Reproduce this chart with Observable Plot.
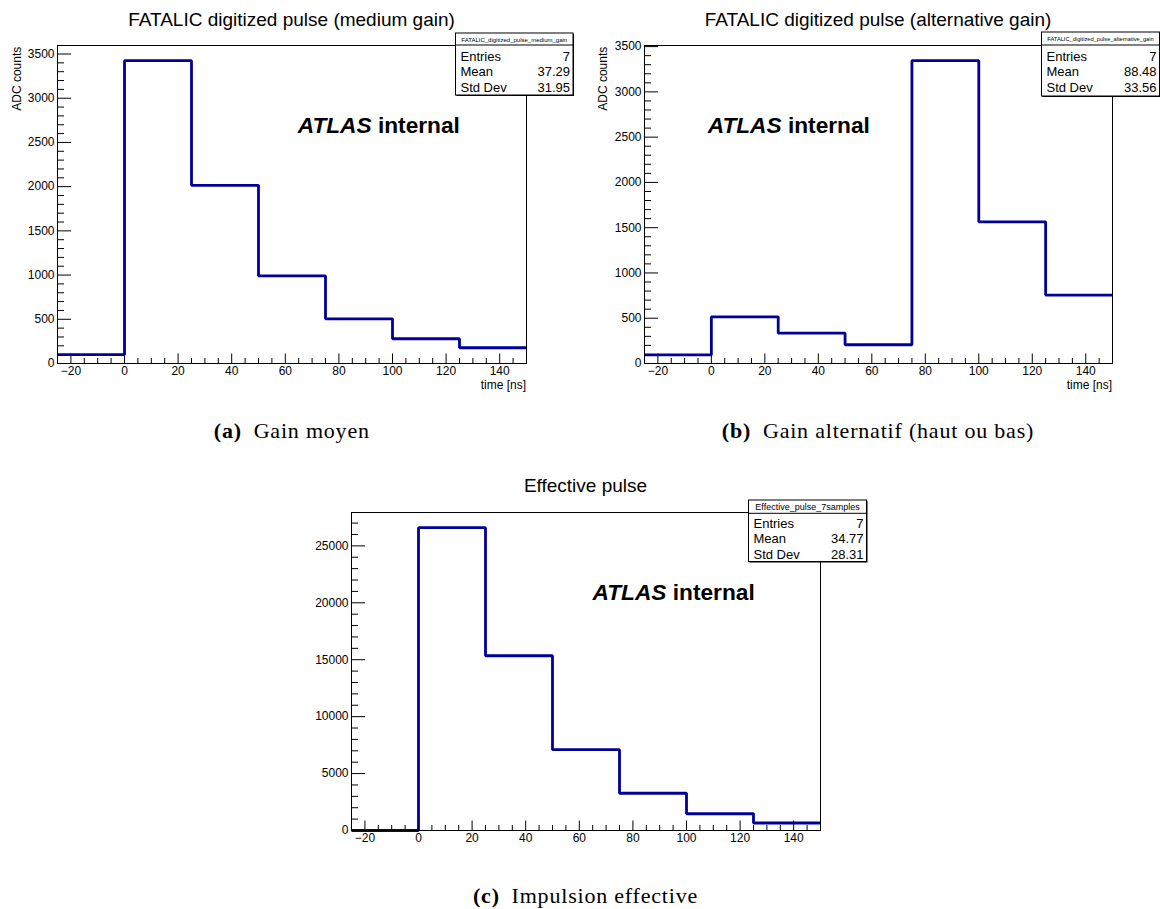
<!DOCTYPE html>
<html><head><meta charset="utf-8">
<script src="https://cdn.jsdelivr.net/npm/d3@7"></script>
<script src="https://cdn.jsdelivr.net/npm/@observablehq/plot@0.6"></script>
<style>
html,body{margin:0;padding:0;background:#fff;}
#page{position:relative;width:1160px;height:909px;overflow:hidden;background:#fff;}
#page svg.panel{position:absolute;}
#overlay{position:absolute;left:0;top:0;pointer-events:none;}
</style></head>
<body><div id="page"></div>
<script>
// ---- data ----
const binEdges = [-25, 0, 25, 50, 75, 100, 125, 150];
const mediumGain = [100, 3425, 2015, 990, 505, 280, 178];
const alternativeGain = [95, 515, 335, 207, 3345, 1565, 756];
const effectivePulse = [0, 26600, 15350, 7100, 3270, 1470, 660];

const xMajorTicks = [-20, 0, 20, 40, 60, 80, 100, 120, 140];
const yMajorTicksADC = [0, 500, 1000, 1500, 2000, 2500, 3000, 3500];
const yMajorTicksEff = [0, 5000, 10000, 15000, 20000, 25000];

const titles = ["FATALIC digitized pulse (medium gain)", "FATALIC digitized pulse (alternative gain)", "Effective pulse"];
const statNames = ["FATALIC_digitized_pulse_medium_gain", "FATALIC_digitized_pulse_alternative_gain", "Effective_pulse_7samples"];
const statEntries = ["7", "7", "7"];
const statMeans = ["37.29", "88.48", "34.77"];
const statStd = ["31.95", "33.56", "28.31"];
const captionTags = ["(a)", "(b)", "(c)"];
const captionTexts = ["Gain moyen", "Gain alternatif (haut ou bas)", "Impulsion effective"];
const yLabels = ["ADC counts", "ADC counts", null];
const xLabels = ["time [ns]", "time [ns]", null];

// ---- layout (pixels) ----
const layout = [
  {left: 0, top: 0, width: 586, height: 404, mL: 57, mR: 60, mT: 45, mB: 41,
   title: [291.5, 26], ylab: [21, 46.7], xlabY: 389,
   box: [455.5, 33, 117.5, 62, 45], hdrFont: 6, hdrY: 41.5, rows: [61, 76.3, 91.5],
   atlas: [297.7, 133.3], caption: [291.8, 438], minorYStep: 100},
  {left: 586, top: 0, width: 574, height: 404, mL: 58, mR: 48, mT: 45, mB: 41,
   title: [878, 26], ylab: [607, 46.7], xlabY: 389,
   box: [1041.5, 32, 118, 64, 45], hdrFont: 5.7, hdrY: 40.8, rows: [61, 76.3, 91.5],
   atlas: [707.7, 133.3], caption: [878, 438], minorYStep: 100},
  {left: 292, top: 470, width: 587, height: 400, mL: 59, mR: 59, mT: 42, mB: 40,
   title: [585.5, 492], ylab: null, xlabY: null,
   box: [748.5, 500, 118, 61.5, 513.3], hdrFont: 9, hdrY: 510, rows: [527.7, 543.3, 559],
   atlas: [592.5, 600], caption: [585.5, 903], minorYStep: 1000}
];
const seriesList = [mediumGain, alternativeGain, effectivePulse];
const yMajorList = [yMajorTicksADC, yMajorTicksADC, yMajorTicksEff];

const page = document.getElementById("page");
const fmt = d3.format("d");
const FONT = "'Liberation Sans', Arial, Helvetica, sans-serif";

seriesList.forEach((values, k) => {
  const L = layout[k];
  const innerW = L.width - L.mL - L.mR;
  const innerH = L.height - L.mT - L.mB;
  const ymax = d3.max(values) * 1.05;
  const points = binEdges.map((e, i) => ({time: e, count: values[Math.min(i, values.length - 1)]}));
  const xMinor = d3.range(-20, 150, 5).filter(v => !xMajorTicks.includes(v));
  const yMinor = d3.range(0, ymax, L.minorYStep).filter(v => !yMajorList[k].includes(v));
  const svg = Plot.plot({
    width: L.width, height: L.height,
    marginLeft: L.mL, marginRight: L.mR, marginTop: L.mT, marginBottom: L.mB,
    x: {domain: [-25, 150]},
    y: {domain: [0, ymax]},
    style: {fontFamily: FONT, fontSize: "12px", color: "black", background: "transparent", overflow: "visible"},
    marks: [
      Plot.tickX(xMinor, {x: d => d, insetTop: innerH - 5, stroke: "black"}),
      Plot.tickX(xMajorTicks, {x: d => d, insetTop: innerH - 9.5, stroke: "black"}),
      Plot.tickY(yMinor, {y: d => d, insetRight: innerW - 7, stroke: "black"}),
      Plot.tickY(yMajorList[k], {y: d => d, insetRight: innerW - 14, stroke: "black"}),
      Plot.axisX({ticks: xMajorTicks, tickSize: 0, tickPadding: 3, label: null, tickFormat: fmt, fontSize: 12}),
      Plot.axisY({ticks: yMajorList[k], tickSize: 0, tickPadding: 3, label: null, tickFormat: fmt, fontSize: 12}),
      Plot.line(points, {x: "time", y: "count", curve: "step-after", stroke: "#000099", strokeWidth: 2.8, strokeLinejoin: "miter", strokeLinecap: "butt"}),
      Plot.frame({stroke: "black", strokeWidth: 1})
    ]
  });
  svg.classList.add("panel");
  svg.style.left = L.left + "px";
  svg.style.top = L.top + "px";
  page.appendChild(svg);
});

// ---- overlay text / stats boxes ----
const ov = d3.select(page).append("svg").attr("id", "overlay")
  .attr("width", 1160).attr("height", 909)
  .style("font-family", FONT);

layout.forEach((L, k) => {
  ov.append("text").attr("x", L.title[0]).attr("y", L.title[1])
    .attr("text-anchor", "middle").attr("font-size", 19).text(titles[k]);
  if (yLabels[k]) {
    ov.append("text").attr("transform", `translate(${L.ylab[0]},${L.ylab[1]}) rotate(-90)`)
      .attr("text-anchor", "end").attr("font-size", 12).text(yLabels[k]);
  }
  if (xLabels[k]) {
    ov.append("text").attr("x", L.left + L.width - L.mR).attr("y", L.xlabY)
      .attr("text-anchor", "end").attr("font-size", 12).text(xLabels[k]);
  }
  const [bx, by, bw, bh, hy] = L.box;
  ov.append("rect").attr("x", bx + 1).attr("y", by + 1).attr("width", bw).attr("height", bh).attr("fill", "black");
  ov.append("rect").attr("x", bx).attr("y", by).attr("width", bw).attr("height", bh)
    .attr("fill", "white").attr("stroke", "black").attr("stroke-width", 1);
  ov.append("line").attr("x1", bx).attr("x2", bx + bw).attr("y1", hy).attr("y2", hy).attr("stroke", "black");
  ov.append("text").attr("x", bx + bw / 2).attr("y", L.hdrY).attr("text-anchor", "middle")
    .attr("font-size", L.hdrFont).text(statNames[k]);
  const rowLabels = ["Entries", "Mean", "Std Dev"];
  const rowValues = [statEntries[k], statMeans[k], statStd[k]];
  rowLabels.forEach((lab, i) => {
    ov.append("text").attr("x", bx + 5).attr("y", L.rows[i]).attr("font-size", 13).text(lab);
    ov.append("text").attr("x", bx + bw - 3).attr("y", L.rows[i]).attr("text-anchor", "end")
      .attr("font-size", 13).text(rowValues[i]);
  });
  const at = ov.append("text").attr("x", L.atlas[0]).attr("y", L.atlas[1])
    .attr("font-size", 22.7).attr("font-weight", "bold");
  at.append("tspan").attr("font-style", "italic").text("ATLAS");
  at.append("tspan").text(" internal");
  const cap = ov.append("text").attr("x", L.caption[0]).attr("y", L.caption[1])
    .attr("text-anchor", "middle").attr("font-size", 22).attr("letter-spacing", 0.8)
    .attr("font-family", "'Liberation Serif', 'DejaVu Serif', serif");
  cap.append("tspan").attr("font-weight", "bold").text(captionTags[k]);
  cap.append("tspan").text("\u2002" + captionTexts[k]);
});
</script>
</body></html>
